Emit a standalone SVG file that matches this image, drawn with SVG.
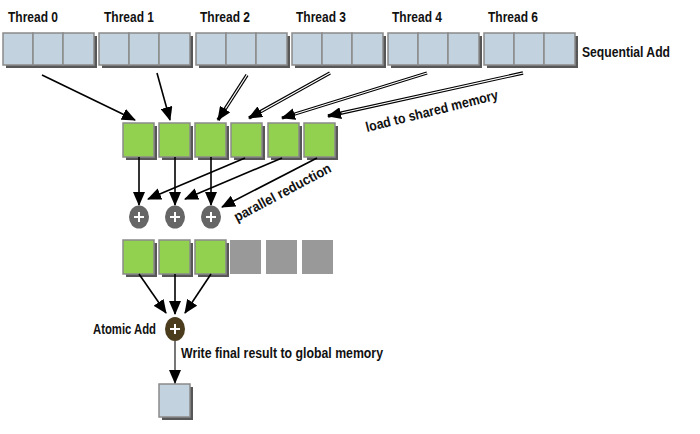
<svg xmlns="http://www.w3.org/2000/svg" width="700" height="434" viewBox="0 0 700 434">
<style>
.lbl{font-family:"Liberation Sans",Arial,sans-serif;font-weight:bold;font-size:14px;fill:#111}
.cell{fill:#c2d3df;stroke:#8a8a8a;stroke-width:1.5}
.grn{fill:#92d050;stroke:#8a8a8a;stroke-width:1.5}
.gry{fill:#999999}
.shd{fill:#3a3a3a;opacity:0.85}
.ln{stroke:#000;stroke-width:1.6;fill:none}
.dbl{stroke:#000;stroke-width:3.4;fill:none}
.dblw{stroke:#fff;stroke-width:1.2;fill:none}
.plus{fill:#666666}
.pl{stroke:#fff;stroke-width:2}
</style>
<defs>
<marker id="ah" markerUnits="userSpaceOnUse" markerWidth="14" markerHeight="12" refX="13" refY="6" orient="auto">
<path d="M0,0 L14,6 L0,12 z" fill="#000"/>
</marker>
</defs>
<rect width="700" height="434" fill="#fff"/>

<!-- top blocks -->
<g id="block0"><rect class="shd" x="6" y="36" width="91" height="32"/><rect class="cell" x="3" y="33" width="30" height="32"/><rect class="cell" x="33" y="33" width="30" height="32"/><rect class="cell" x="63" y="33" width="31" height="32"/></g>
<g id="block1"><rect class="shd" x="102" y="36" width="91" height="32"/><rect class="cell" x="99" y="33" width="30" height="32"/><rect class="cell" x="129" y="33" width="30" height="32"/><rect class="cell" x="159" y="33" width="31" height="32"/></g>
<g id="block2"><rect class="shd" x="199" y="36" width="91" height="32"/><rect class="cell" x="196" y="33" width="30" height="32"/><rect class="cell" x="226" y="33" width="30" height="32"/><rect class="cell" x="256" y="33" width="31" height="32"/></g>
<g id="block3"><rect class="shd" x="295" y="36" width="91" height="32"/><rect class="cell" x="292" y="33" width="30" height="32"/><rect class="cell" x="322" y="33" width="30" height="32"/><rect class="cell" x="352" y="33" width="31" height="32"/></g>
<g id="block4"><rect class="shd" x="391" y="36" width="91" height="32"/><rect class="cell" x="388" y="33" width="30" height="32"/><rect class="cell" x="418" y="33" width="30" height="32"/><rect class="cell" x="448" y="33" width="31" height="32"/></g>
<g id="block6"><rect class="shd" x="487" y="36" width="91" height="32"/><rect class="cell" x="484" y="33" width="30" height="32"/><rect class="cell" x="514" y="33" width="30" height="32"/><rect class="cell" x="544" y="33" width="31" height="32"/></g>

<g id="thread-labels">
<text class="lbl" x="8" y="22" textLength="50" lengthAdjust="spacingAndGlyphs">Thread 0</text>
<text class="lbl" x="104" y="22" textLength="50" lengthAdjust="spacingAndGlyphs">Thread 1</text>
<text class="lbl" x="200" y="22" textLength="50" lengthAdjust="spacingAndGlyphs">Thread 2</text>
<text class="lbl" x="296" y="22" textLength="50" lengthAdjust="spacingAndGlyphs">Thread 3</text>
<text class="lbl" x="392" y="22" textLength="50" lengthAdjust="spacingAndGlyphs">Thread 4</text>
<text class="lbl" x="488" y="22" textLength="50" lengthAdjust="spacingAndGlyphs">Thread 6</text>
<text class="lbl" x="582" y="57" textLength="88" lengthAdjust="spacingAndGlyphs">Sequential Add</text>
</g>

<!-- shared memory row -->
<g id="shared0"><rect class="shd" x="126" y="126" width="31" height="34"/><rect class="grn" x="123" y="123" width="31" height="34"/></g>
<g id="shared1"><rect class="shd" x="162" y="126" width="31" height="34"/><rect class="grn" x="159" y="123" width="31" height="34"/></g>
<g id="shared2"><rect class="shd" x="198" y="126" width="31" height="34"/><rect class="grn" x="195" y="123" width="31" height="34"/></g>
<g id="shared3"><rect class="shd" x="234" y="126" width="31" height="34"/><rect class="grn" x="231" y="123" width="31" height="34"/></g>
<g id="shared4"><rect class="shd" x="271" y="126" width="31" height="34"/><rect class="grn" x="268" y="123" width="31" height="34"/></g>
<g id="shared5"><rect class="shd" x="307" y="126" width="31" height="34"/><rect class="grn" x="304" y="123" width="31" height="34"/></g>

<!-- plus nodes -->
<g id="plus0"><ellipse class="plus" cx="139" cy="217" rx="10" ry="11.5"/><path class="pl" d="M134,217 H144 M139,212 V222"/></g>
<g id="plus1"><ellipse class="plus" cx="175" cy="217" rx="10" ry="11.5"/><path class="pl" d="M170,217 H180 M175,212 V222"/></g>
<g id="plus2"><ellipse class="plus" cx="211" cy="217" rx="10" ry="11.5"/><path class="pl" d="M206,217 H216 M211,212 V222"/></g>

<!-- result row -->
<g id="res0"><rect class="shd" x="126" y="243" width="31" height="34"/><rect class="grn" x="123" y="240" width="31" height="34"/></g>
<g id="res1"><rect class="shd" x="162" y="243" width="31" height="34"/><rect class="grn" x="159" y="240" width="31" height="34"/></g>
<g id="res2"><rect class="shd" x="198" y="243" width="31" height="34"/><rect class="grn" x="195" y="240" width="31" height="34"/></g>
<g id="res3"><rect class="gry" x="230" y="240" width="31" height="34"/></g>
<g id="res4"><rect class="gry" x="266" y="240" width="31" height="34"/></g>
<g id="res5"><rect class="gry" x="302" y="240" width="31" height="34"/></g>

<!-- atomic add -->
<g id="atomic"><ellipse cx="175" cy="329" rx="10" ry="12" fill="#4b3c1d"/><path class="pl" d="M170,329 H180 M175,324 V334"/>
<text class="lbl" x="93" y="334" textLength="63" lengthAdjust="spacingAndGlyphs">Atomic Add</text></g>

<!-- global result -->
<g id="global"><rect class="shd" x="162" y="387" width="31" height="33"/><rect class="cell" x="159" y="384" width="31" height="33"/></g>

<g id="labels">
<text class="lbl" x="367" y="132" transform="rotate(-14 367 132)" textLength="136" lengthAdjust="spacingAndGlyphs">load to shared memory</text>
<text class="lbl" x="237" y="222" transform="rotate(-28 237 222)" textLength="108" lengthAdjust="spacingAndGlyphs">parallel reduction</text>
<text class="lbl" x="181" y="358" textLength="202" lengthAdjust="spacingAndGlyphs">Write final result to global memory</text>
</g>

<g id="connectors">
<line class="ln" x1="42" y1="75" x2="135" y2="120" marker-end="url(#ah)"/>
<line class="ln" x1="157" y1="73" x2="170" y2="120" marker-end="url(#ah)"/>
<line class="dbl" x1="247" y1="75" x2="218" y2="120" marker-end="url(#ah)"/>
<line class="dblw" x1="247" y1="75" x2="225.5" y2="108.5"/>
<line class="dbl" x1="330" y1="73" x2="249" y2="118" marker-end="url(#ah)"/>
<line class="dblw" x1="330" y1="73" x2="261" y2="111.5"/>
<line class="dbl" x1="427" y1="73" x2="282" y2="118" marker-end="url(#ah)"/>
<line class="dblw" x1="427" y1="73" x2="295" y2="114"/>
<line class="dbl" x1="523" y1="73" x2="328" y2="116" marker-end="url(#ah)"/>
<line class="dblw" x1="523" y1="73" x2="341.5" y2="113"/>

<line class="ln" x1="139" y1="157" x2="139" y2="205" marker-end="url(#ah)"/>
<line class="ln" x1="175" y1="157" x2="175" y2="205" marker-end="url(#ah)"/>
<line class="ln" x1="211" y1="157" x2="211" y2="205" marker-end="url(#ah)"/>
<line class="ln" x1="245" y1="158" x2="148" y2="199" marker-end="url(#ah)"/>
<line class="ln" x1="282" y1="158" x2="185" y2="199" marker-end="url(#ah)"/>
<line class="ln" x1="317" y1="158" x2="222" y2="207" marker-end="url(#ah)"/>

<line class="ln" x1="139" y1="274" x2="166" y2="313" marker-end="url(#ah)"/>
<line class="ln" x1="175" y1="274" x2="175" y2="314" marker-end="url(#ah)"/>
<line class="ln" x1="211" y1="274" x2="185" y2="313" marker-end="url(#ah)"/>

<line class="ln" x1="175" y1="341" x2="175" y2="383" marker-end="url(#ah)" style="stroke:#555"/>
</g>
</svg>
